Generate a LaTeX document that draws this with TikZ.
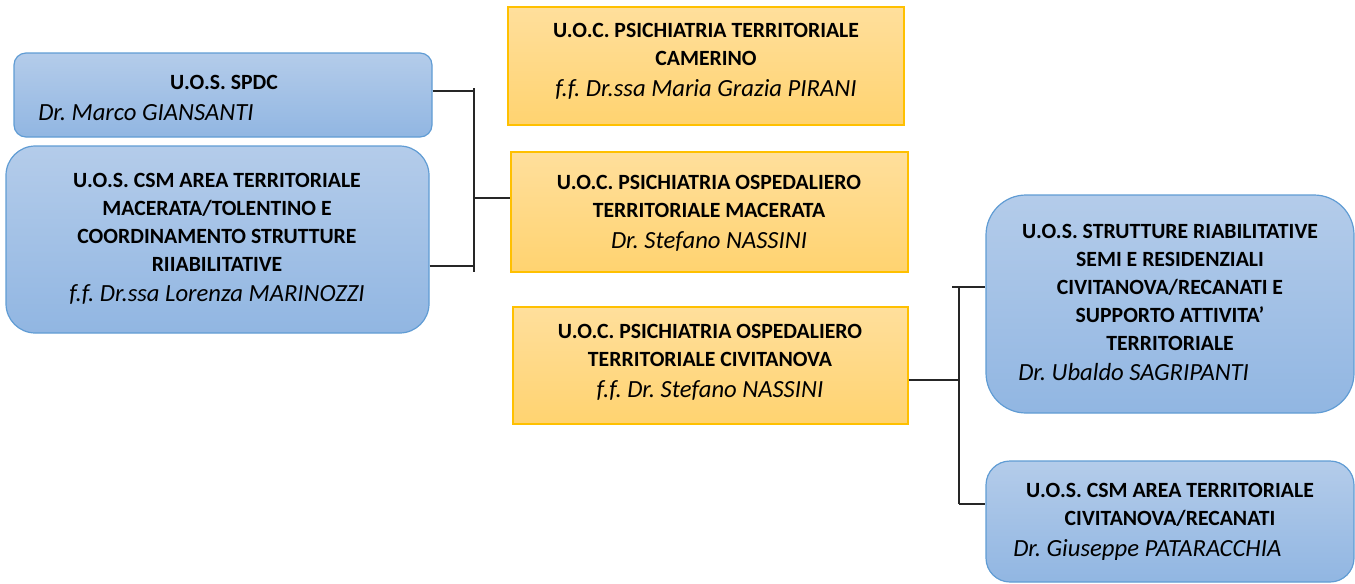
\documentclass[tikz,border=0pt]{standalone}
\usepackage{fontspec}
\setmainfont{Carlito}
\usetikzlibrary{fit}
\frenchspacing
\definecolor{bluetop}{RGB}{180,204,234}
\definecolor{bluebot}{RGB}{145,182,226}
\definecolor{blueline}{RGB}{96,156,212}
\definecolor{ortop}{RGB}{255,223,156}
\definecolor{orbot}{RGB}{255,211,112}
\definecolor{orline}{RGB}{255,192,0}
\newcommand{\itl}[1]{{\fontsize{18.5}{21}\selectfont\normalfont\itshape #1}}
\begin{document}
\begin{tikzpicture}[x=0.75pt,y=-0.75pt,
  bluebox/.style={draw=blueline, line width=0.9pt, top color=bluetop, bottom color=bluebot, rounded corners=#1, inner sep=0pt},
  orbox/.style={draw=orline, line width=0.9pt, top color=ortop, bottom color=orbot, inner sep=0pt},
  bold/.style={font=\fontsize{16.3}{21}\selectfont\bfseries, align=center, inner sep=0pt},
  ital/.style={font=\fontsize{18.5}{21}\selectfont\itshape, inner sep=0pt, anchor=base west},
  conn/.style={draw=black!85, line width=0.9pt}]
\useasboundingbox (0,0) rectangle (1355,583);
% boxes
\node[bluebox=9pt, fit={(14,53)(432,137)}] (spdc) {};
\node[bluebox=22pt, fit={(6,146)(429,333)}] (csmmc) {};
\node[orbox, fit={(508,7)(904,125)}] (cam) {};
\node[orbox, fit={(511,152)(908,272)}] (mac) {};
\node[orbox, fit={(513,307)(908,424)}] (civ) {};
\node[bluebox=30pt, fit={(986,195)(1354,413)}] (strut) {};
\node[bluebox=18pt, fit={(986,461)(1354,582)}] (csmcr) {};
% texts
\node[bold] (t1) at (224,82) {U.O.S. SPDC};
\node[ital] (t1i) at (38,120.5) {Dr. Marco GIANSANTI};
\node[bold] (t2) at (217,239) {U.O.S. CSM AREA TERRITORIALE\\MACERATA/TOLENTINO E\\COORDINAMENTO STRUTTURE\\RIIABILITATIVE\\[1.5pt]\itl{f.f. Dr.ssa Lorenza MARINOZZI}};
\node[bold] (t3) at (706,61) {U.O.C. PSICHIATRIA TERRITORIALE\\CAMERINO\\[2pt]\itl{f.f. Dr.ssa Maria Grazia PIRANI}};
\node[bold] (t4) at (709,213) {U.O.C. PSICHIATRIA OSPEDALIERO\\TERRITORIALE MACERATA\\[2pt]\itl{Dr. Stefano NASSINI}};
\node[bold] (t5) at (710,362) {U.O.C. PSICHIATRIA OSPEDALIERO\\TERRITORIALE CIVITANOVA\\[2pt]\itl{f.f. Dr. Stefano NASSINI}};
\node[bold] (t6) at (1170,287) {U.O.S. STRUTTURE RIABILITATIVE\\SEMI E RESIDENZIALI\\CIVITANOVA/RECANATI E\\SUPPORTO ATTIVITA’\\TERRITORIALE};
\node[ital] (t6i) at (1018,380) {Dr. Ubaldo SAGRIPANTI};
\node[bold] (t7) at (1170,505) {U.O.S. CSM AREA TERRITORIALE\\CIVITANOVA/RECANATI};
\node[ital] (t7i) at (1013,556) {Dr. Giuseppe PATARACCHIA};
% connector coordinates
\coordinate (ltop) at (474,88);
\coordinate (lbot) at (474,272);
\coordinate (l1) at (474,91);
\coordinate (l2) at (474,266);
\coordinate (l3) at (474,198);
\coordinate (rtop) at (959,287);
\coordinate (rtopl) at (952,287);
\coordinate (rbot) at (959,504);
\coordinate (r2) at (959,380);
% connectors
\draw[conn] (ltop) -- (lbot);
\draw[conn] (spdc.east |- l1) -- (l1);
\draw[conn] (csmmc.east |- l2) -- (l2);
\draw[conn] (l3) -- (mac.west |- l3);
\draw[conn] (rtop) -- (rbot);
\draw[conn] (civ.east |- r2) -- (r2);
\draw[conn] (rtopl) -- (strut.west |- rtop);
\draw[conn] (rbot) -- (csmcr.west |- rbot);
\end{tikzpicture}
\end{document}
